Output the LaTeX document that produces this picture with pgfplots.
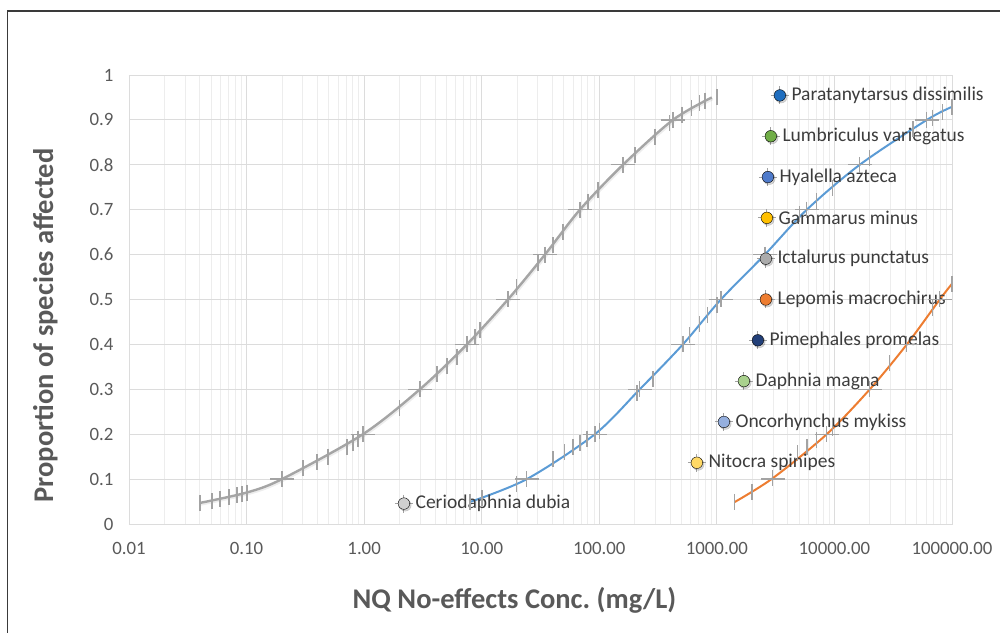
\documentclass[border=0pt]{standalone}
\usepackage{pgfplots}
\pgfplotsset{compat=1.18}
\usepackage{pgfplotstable}
\usepackage{fontspec}
\setmainfont{Carlito}
\frenchspacing

\definecolor{gcurve}{HTML}{A5A5A5}
\definecolor{bcurve}{HTML}{5B9BD5}
\definecolor{ocurve}{HTML}{ED7D31}
\definecolor{tickc}{HTML}{A3A3A3}
\definecolor{gridmaj}{HTML}{DCDCDC}
\definecolor{gridmin}{HTML}{EDEDED}
\definecolor{txtgray}{HTML}{595959}
\definecolor{lbl}{HTML}{3C3C3C}
\definecolor{framec}{HTML}{3A3A3A}
\definecolor{cPara}{HTML}{1F6EBF}
\definecolor{cLumb}{HTML}{70AD47}
\definecolor{cHyal}{HTML}{4F7BCB}
\definecolor{cGamm}{HTML}{FFC000}
\definecolor{cIcta}{HTML}{ABABAB}
\definecolor{cLepo}{HTML}{ED7D31}
\definecolor{cPime}{HTML}{223F78}
\definecolor{cDaph}{HTML}{A9D18E}
\definecolor{cOnco}{HTML}{95AFDE}
\definecolor{cNito}{HTML}{FFD966}
\definecolor{cCeri}{HTML}{CFCFCF}

% ---------- gray curve ----------
\pgfplotstableread{
x y
0.0402 0.047
0.1 0.070
0.2 0.100
0.977 0.200
2.98 0.300
7.48 0.400
16.7 0.500
34.5 0.600
68.4 0.700
159 0.800
423 0.900
906 0.950
}\grayline
\pgfplotstableread{
x y
0.0402 0.047
0.0508 0.051
0.0594 0.055
0.0709 0.060
0.0828 0.064
0.0914 0.067
0.1007 0.070
0.200 0.100
0.302 0.124
0.397 0.138
0.492 0.150
0.714 0.172
0.803 0.181
0.886 0.190
0.977 0.200
2.01 0.258
2.98 0.300
4.16 0.333
5.06 0.352
6.15 0.372
7.48 0.400
8.75 0.417
9.66 0.432
16.7 0.500
19.9 0.527
30.1 0.582
34.5 0.600
40.3 0.621
49.0 0.650
68.4 0.700
80.0 0.718
97.3 0.744
159 0.800
201 0.822
297 0.862
398 0.893
423 0.900
504 0.912
612 0.926
716 0.937
791 0.943
1000 0.950
}\grayticks
\pgfplotstableread{
x y
0.2 0.1
0.977 0.2
2.98 0.3
7.48 0.4
16.7 0.5
34.5 0.6
68.4 0.7
159 0.8
423 0.9
}\graybars

% ---------- blue curve ----------
\pgfplotstableread{
x y
7.94 0.049
24.2 0.100
91.8 0.200
221 0.300
514 0.400
1082 0.500
2560 0.600
5820 0.700
16400 0.800
61100 0.900
100000 0.929
}\blueline
\pgfplotstableread{
x y
7.94 0.049
10.05 0.058
19.9 0.090
24.2 0.100
40.3 0.145
50.9 0.160
59.7 0.171
68.4 0.180
78.5 0.190
91.8 0.200
101 0.207
209 0.292
221 0.300
286 0.322
514 0.400
589 0.420
716 0.445
838 0.466
1000 0.488
1082 0.500
2560 0.600
5080 0.690
5820 0.700
7080 0.719
9680 0.749
16400 0.800
20000 0.815
46500 0.879
61100 0.900
68700 0.905
83500 0.917
100000 0.929
}\blueticks
\pgfplotstableread{
x y
24.2 0.1
91.8 0.2
221 0.3
514 0.4
1082 0.5
2560 0.6
5820 0.7
16400 0.8
61100 0.9
}\bluebars

% ---------- orange curve ----------
\pgfplotstableread{
x y
1420 0.049
2990 0.102
8610 0.200
20000 0.300
41300 0.400
78700 0.500
100000 0.535
}\orangeline
\pgfplotstableread{
x y
1420 0.049
1990 0.071
2990 0.102
4880 0.158
5830 0.172
7080 0.187
8610 0.200
9680 0.214
20000 0.300
29600 0.358
41300 0.400
68700 0.482
78700 0.500
100000 0.535
}\orangeticks
\pgfplotstableread{
x y
2990 0.1
8610 0.2
20000 0.3
41300 0.4
78700 0.5
}\orangebars

% ---------- species ----------
\pgfplotstableread{
x y
2.18 0.0455
676 0.1364
1148 0.2273
1698 0.3182
2234 0.4091
2612 0.5000
2612 0.5909
2663 0.6818
2717 0.7727
2877 0.8636
3436 0.9545
}\species

\begin{document}
\begin{tikzpicture}
\useasboundingbox (0,0) rectangle (1000bp,633bp);
\draw[framec, line width=1.4bp] (7.5bp,-2bp) -- (7.5bp,622bp) -- (1002bp,622bp);
\begin{axis}[
  at={(129bp,109bp)}, anchor=south west,
  scale only axis, width=823bp, height=449bp,
  xmode=log, log basis x=10,
  xmin=0.01, xmax=100000, ymin=0, ymax=1,
  clip=false,
  xtick={0.01,0.1,1,10,100,1000,10000,100000},
  xticklabels={0.01,0.10,1.00,10.00,100.00,1000.00,10000.00,100000.00},
  minor xtick={0.02,0.03,0.04,0.05,0.06,0.07,0.08,0.09,0.2,0.3,0.4,0.5,0.6,0.7,0.8,0.9,2,3,4,5,6,7,8,9,20,30,40,50,60,70,80,90,200,300,400,500,600,700,800,900,2000,3000,4000,5000,6000,7000,8000,9000,20000,30000,40000,50000,60000,70000,80000,90000},
  ytick={0,0.1,0.2,0.3,0.4,0.5,0.6,0.7,0.8,0.9,1},
  yticklabels={0,0.1,0.2,0.3,0.4,0.5,0.6,0.7,0.8,0.9,1},
  xmajorgrids, xminorgrids, ymajorgrids,
  major grid style={draw=gridmaj, line width=0.8bp},
  minor grid style={draw=gridmin, line width=0.8bp},
  axis line style={draw=gridmaj, line width=0.8bp},
  major tick length=0pt, minor tick length=0pt,
  tick style={draw=none},
  tick label style={font=\fontsize{18.8bp}{20bp}\selectfont, text=txtgray},
  xticklabel style={anchor=base, yshift=-31bp},
  yticklabel style={anchor=east, xshift=-12bp},
]
% tick marks (error-bar like crosses)
\addplot[only marks, mark=|, mark size=8bp, mark options={draw=tickc, line width=1.3bp}] table {\grayticks};
\addplot[only marks, mark=-, mark size=12bp, mark options={draw=tickc, line width=1.3bp}] table {\graybars};
\addplot[only marks, mark=|, mark size=8bp, mark options={draw=tickc, line width=1.3bp}] table {\blueticks};
\addplot[only marks, mark=-, mark size=12bp, mark options={draw=tickc, line width=1.3bp}] table {\bluebars};
\addplot[only marks, mark=|, mark size=8bp, mark options={draw=tickc, line width=1.3bp}] table {\orangeticks};
\addplot[only marks, mark=-, mark size=12bp, mark options={draw=tickc, line width=1.3bp}] table {\orangebars};
% curves
\addplot[no marks, smooth, draw=black, opacity=0.07, line width=2.5bp, xshift=1bp, yshift=-1.5bp] table {\grayline};
\addplot[no marks, smooth, draw=gcurve, line width=2.4bp] table {\grayline};
\addplot[no marks, smooth, draw=bcurve, line width=2bp] table {\blueline};
\addplot[no marks, smooth, draw=ocurve, line width=2bp] table {\orangeline};
% species error crosses and shadows
\addplot[only marks, mark=+, mark size=9bp, mark options={draw=tickc, line width=1.1bp}] table {\species};
\addplot[only marks, mark=*, mark size=6bp, mark options={draw=none, fill=black, opacity=0.16}, xshift=1.3bp, yshift=-1.6bp] table {\species};
% species points
\addplot[only marks, mark=*, mark size=5.8bp, mark options={draw=none, fill=cCeri}] coordinates {(2.18,0.0455)};
\addplot[only marks, mark=*, mark size=5.8bp, mark options={draw=none, fill=cNito}] coordinates {(676,0.1364)};
\addplot[only marks, mark=*, mark size=5.8bp, mark options={draw=none, fill=cOnco}] coordinates {(1148,0.2273)};
\addplot[only marks, mark=*, mark size=5.8bp, mark options={draw=none, fill=cDaph}] coordinates {(1698,0.3182)};
\addplot[only marks, mark=*, mark size=5.8bp, mark options={draw=none, fill=cPime}] coordinates {(2234,0.4091)};
\addplot[only marks, mark=*, mark size=5.8bp, mark options={draw=none, fill=cLepo}] coordinates {(2612,0.5000)};
\addplot[only marks, mark=*, mark size=5.8bp, mark options={draw=none, fill=cIcta}] coordinates {(2612,0.5909)};
\addplot[only marks, mark=*, mark size=5.8bp, mark options={draw=none, fill=cGamm}] coordinates {(2663,0.6818)};
\addplot[only marks, mark=*, mark size=5.8bp, mark options={draw=none, fill=cHyal}] coordinates {(2717,0.7727)};
\addplot[only marks, mark=*, mark size=5.8bp, mark options={draw=none, fill=cLumb}] coordinates {(2877,0.8636)};
\addplot[only marks, mark=*, mark size=5.8bp, mark options={draw=none, fill=cPara}] coordinates {(3436,0.9545)};
% species labels
\begin{scope}[every node/.style={anchor=west, xshift=10.5bp, inner sep=1bp, text=lbl, font=\fontsize{19.5bp}{21bp}\selectfont}]
\node at (axis cs:2.18,0.0455) {Ceriodaphnia dubia};
\node at (axis cs:676,0.1364) {Nitocra spinipes};
\node at (axis cs:1148,0.2273) {Oncorhynchus mykiss};
\node at (axis cs:1698,0.3182) {Daphnia magna};
\node at (axis cs:2234,0.4091) {Pimephales promelas};
\node at (axis cs:2612,0.5000) {Lepomis macrochirus};
\node at (axis cs:2612,0.5909) {Ictalurus punctatus};
\node at (axis cs:2663,0.6818) {Gammarus minus};
\node at (axis cs:2717,0.7727) {Hyalella azteca};
\node at (axis cs:2877,0.8636) {Lumbriculus variegatus};
\node at (axis cs:3436,0.9545) {Paratanytarsus dissimilis};
\end{scope}
\end{axis}
\node[anchor=base, text=txtgray, font=\bfseries\fontsize{28.5bp}{30bp}\selectfont, inner sep=0pt] at (514.5bp,25bp) {NQ No-effects Conc.\ (mg/L)};
\node[anchor=base, rotate=90, text=txtgray, font=\bfseries\fontsize{28.5bp}{30bp}\selectfont, inner sep=0pt] at (53bp,307.5bp) {Proportion of species affected};
\end{tikzpicture}
\end{document}
